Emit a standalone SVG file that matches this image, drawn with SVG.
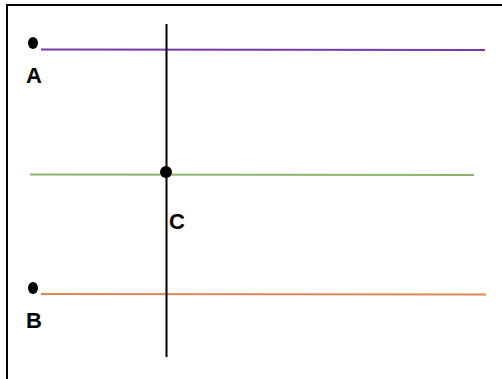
<svg xmlns="http://www.w3.org/2000/svg" width="502" height="379" viewBox="0 0 502 379">
  <style>
    .frame { stroke: #000; stroke-width: 2; fill: none; }
    .axis { stroke: #000; stroke-width: 2; }
    .dot { fill: #000; }
    .lbl { font-family: "Liberation Sans", Arial, sans-serif; font-weight: bold; font-size: 22px; fill: #000; }
  </style>
  <rect width="502" height="379" fill="#fff"/>
  <g id="frame">
    <path class="frame" d="M7 379 V5 H502"/>
  </g>
  <g id="connectors">
    <line id="line-a" x1="41" y1="49.5" x2="485" y2="50" stroke="#7A3AAA" stroke-width="2.2"/>
    <line id="line-c" x1="30" y1="174.5" x2="474" y2="175" stroke="#8DB46E" stroke-width="2.2"/>
    <line id="line-b" x1="41" y1="294" x2="486" y2="294.5" stroke="#DE8753" stroke-width="2.2"/>
    <line id="vertical" class="axis" x1="166.5" y1="24" x2="166.5" y2="357"/>
  </g>
  <g id="node-a">
    <ellipse class="dot" cx="33" cy="43" rx="5" ry="6"/>
    <text class="lbl" x="26" y="83">A</text>
  </g>
  <g id="node-c">
    <circle class="dot" cx="166" cy="172" r="6"/>
    <text class="lbl" x="169" y="229">C</text>
  </g>
  <g id="node-b">
    <ellipse class="dot" cx="33" cy="288" rx="5" ry="6"/>
    <text class="lbl" x="26" y="328">B</text>
  </g>
</svg>
